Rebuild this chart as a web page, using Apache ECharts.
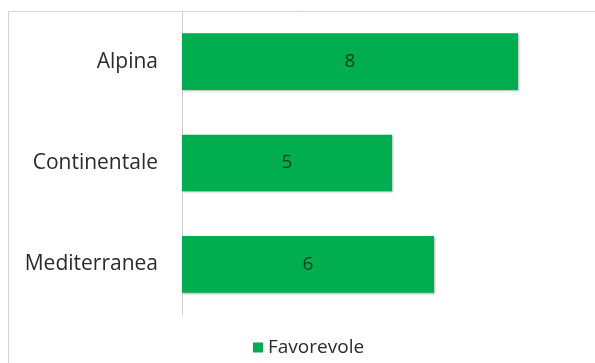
<!DOCTYPE html>
<html>
<head>
<meta charset="utf-8">
<script src="https://cdn.jsdelivr.net/npm/echarts@6/dist/echarts.min.js"></script>
<style>
  html, body { margin: 0; padding: 0; background: #fff; }
  #main { width: 595px; height: 363px; }
</style>
</head>
<body>
<div id="main"></div>
<script>
// data
var categories = ['Alpina', 'Continentale', 'Mediterranea'];
var favorevole = [8, 5, 6];
var seriesName = 'Favorevole';

var chartDom = document.getElementById('main');
var myChart = echarts.init(chartDom);

var option = {
    backgroundColor: '#ffffff',
    animation: false,
    graphic: [
        {
            type: 'rect',
            shape: { x: 8.5, y: 11.5, width: 620, height: 400 },
            style: { fill: 'none', stroke: '#d4d4d4', lineWidth: 1 },
            silent: true,
            z: -1
        }
    ],
    legend: {
        data: [seriesName],
        top: 338,
        left: 253,
        padding: 0,
        itemWidth: 10,
        itemHeight: 10,
        icon: 'rect',
        textStyle: {
            color: '#2a2a2a',
            fontSize: 19,
            fontFamily: 'Open Sans'
        }
    },
    grid: {
        left: 182,
        right: 35,
        top: 11,
        bottom: 48
    },
    xAxis: {
        type: 'value',
        min: 0,
        max: 9,
        show: false
    },
    yAxis: {
        type: 'category',
        data: categories,
        inverse: true,
        axisTick: { show: false },
        axisLine: {
            lineStyle: { color: '#d0d0d0', width: 1 }
        },
        axisLabel: {
            color: '#2a2a2a',
            fontSize: 21,
            fontFamily: 'Open Sans',
            margin: 24
        }
    },
    series: [
        {
            name: seriesName,
            type: 'bar',
            data: favorevole,
            barCategoryGap: '44%',
            itemStyle: {
                color: '#00ae4f',
                shadowColor: 'rgba(0,0,0,0.3)',
                shadowBlur: 2,
                shadowOffsetX: 1,
                shadowOffsetY: 1
            },
            label: {
                show: true,
                position: 'inside',
                color: '#173d1f',
                fontSize: 19,
                fontFamily: 'Open Sans'
            }
        }
    ]
};

myChart.setOption(option);
</script>
</body>
</html>
